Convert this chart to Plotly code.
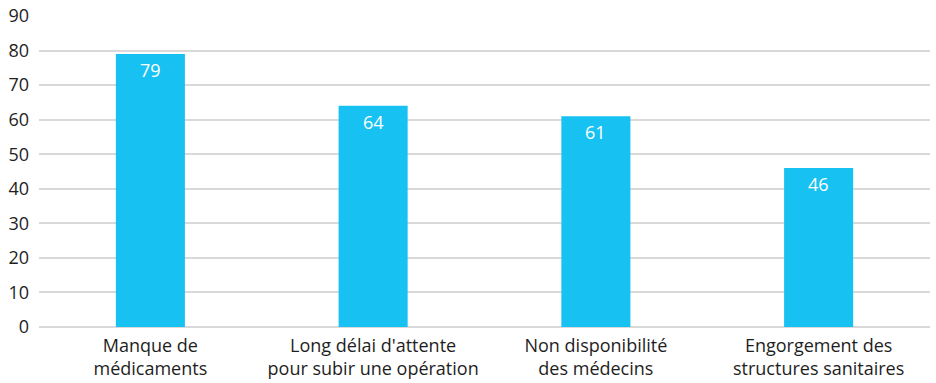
import plotly.graph_objects as go

categories = [
    "Manque de<br>médicaments",
    "Long délai d'attente<br>pour subir une opération",
    "Non disponibilité<br>des médecins",
    "Engorgement des<br>structures sanitaires",
]
values = [79, 64, 61, 46]
y_ticks = [0, 10, 20, 30, 40, 50, 60, 70, 80, 90]

BAR_COLOR = "#17c1f2"
FONT = "'Open Sans', sans-serif"
TEXT_COLOR = "#1e1e1e"

fig = go.Figure(
    go.Bar(
        x=categories,
        y=values,
        marker=dict(color=BAR_COLOR, line=dict(width=0)),
        width=0.31,
        hoverinfo="skip",
    )
)

# value labels just inside the top of each bar
for cat, val in zip(categories, values):
    fig.add_annotation(
        x=cat, y=val, text=str(val), showarrow=False,
        yanchor="top", yshift=-2,
        font=dict(family=FONT, size=18, color="white"),
    )

fig.update_layout(
    width=936, height=383,
    margin=dict(l=39, r=6, t=16, b=56),
    paper_bgcolor="white", plot_bgcolor="white",
    showlegend=False,
    bargap=0.69,
    font=dict(family=FONT, size=18, color=TEXT_COLOR),
)
fig.update_xaxes(
    showgrid=False, showline=False, ticks="",
    tickfont=dict(family=FONT, size=18, color=TEXT_COLOR),
    ticklabelstandoff=6, automargin=False,
    fixedrange=True,
)
fig.update_yaxes(
    range=[0, 90], tickvals=y_ticks, ticktext=[str(t) for t in y_ticks],
    showgrid=True, gridcolor="#d9d9d9", gridwidth=1.5,
    zeroline=True, zerolinecolor="#d9d9d9", zerolinewidth=1.5,
    showline=False, ticks="", ticklabelstandoff=9, automargin=False,
    tickfont=dict(family=FONT, size=18, color=TEXT_COLOR),
    fixedrange=True,
)

fig.write_html("out.html")
